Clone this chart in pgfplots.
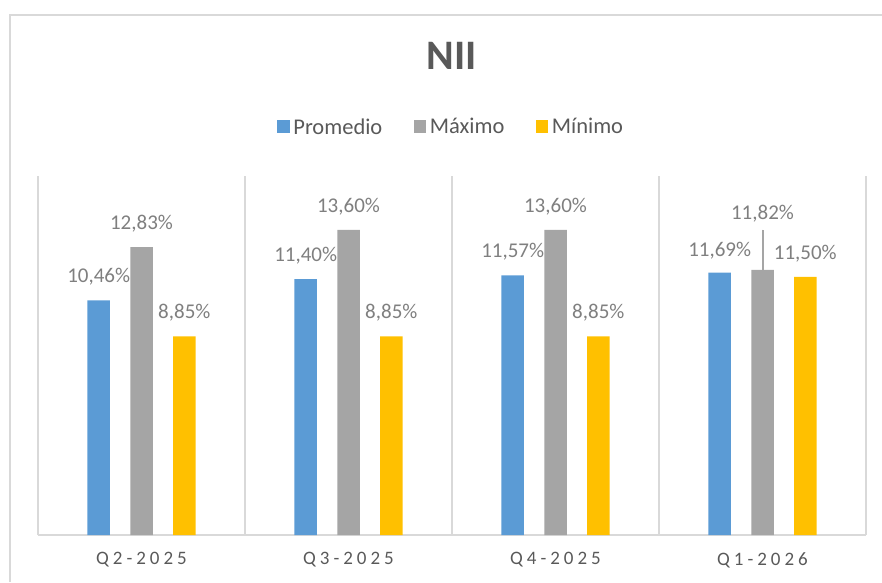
\documentclass[border=0pt]{standalone}
\usepackage{pgfplots}
\usepackage{pgfplotstable}
\pgfplotsset{compat=1.18}
\usepackage{fontspec}
\setmainfont{Carlito}
\newfontfamily\tickfont{Carlito}[LetterSpace=21]
\definecolor{cblue}{HTML}{5B9BD5}
\definecolor{cgray}{HTML}{A5A5A5}
\definecolor{cyel}{HTML}{FFC000}
\definecolor{cgrid}{HTML}{D9D9D9}
\definecolor{ctext}{HTML}{595959}
\definecolor{clab}{HTML}{7F7F7F}

\pgfplotstableread{
x y ls err
0 10.46 17.5 0
1 11.40 17.5 0
2 11.57 17.5 0
3 11.69 16 0
}\prom
\pgfplotstableread{
x y ls err
0 12.83 17.5 0
1 13.60 17.5 0
2 13.60 17.5 0
3 11.82 50 1.79
}\maxi
\pgfplotstableread{
x y ls err
0 8.85 17.5 0
1 8.85 17.5 0
2 8.85 17.5 0
3 11.50 17.5 0
}\mini

\begin{document}
\begin{tikzpicture}
\path[use as bounding box] (-38pt,-47pt) rectangle (844pt,535pt);
\begin{axis}[
  at={(0,0)}, anchor=south west,
  scale only axis, width=828pt, height=359pt,
  ybar=20.3pt, bar width=22.5pt,
  xmin=-0.5, xmax=3.5, ymin=0, ymax=16,
  enlargelimits=false,
  xtick={0,1,2,3},
  xticklabels={Q2-2025,Q3-2025,Q4-2025,Q1-2026},
  xticklabel style={font=\tickfont\fontsize{19}{22}\selectfont, text=ctext, yshift=-14pt},
  minor xtick={-0.5,0.5,1.5,2.5,3.5},
  xminorgrids,
  minor grid style={cgrid, line width=1.3pt},
  major tick length=0pt, minor tick length=0pt,
  ytick=\empty,
  axis x line*=bottom, axis y line*=left,
  x axis line style={cgrid, line width=1.6pt},
  y axis line style={draw=none},
  title={\bfseries NII},
  title style={at={(0.5,1.3175)}, anchor=center, font=\fontsize{42}{48}\selectfont, text=ctext},
  legend columns=3,
  legend style={at={(0.5,1.1365)}, anchor=center, draw=none, fill=none,
    font=\fontsize{22.5}{26}\selectfont, text=ctext,
    nodes={inner xsep=3.5pt},
    /tikz/every even column/.append style={column sep=28pt}},
  legend image code/.code={\fill[#1] (0pt,-6.5pt) rectangle (12.5pt,6.5pt);},
  nodes near coords={\pgfmathprintnumber{\pgfplotspointmeta}\%},
  /pgf/number format/.cd, use comma, fixed, fixed zerofill, precision=2, assume math mode=true,
  /pgfplots/.cd,
  visualization depends on={\thisrow{ls} \as \labshift},
  every node near coord/.append style={anchor=base, yshift=\labshift pt,
    font=\fontsize{21}{25}\selectfont, text=clab, inner sep=0pt},
  point meta=y,
]
\addplot[fill=cblue, draw=none] table[x=x,y=y] {\prom};
\addplot[fill=cgray, draw=none,
  error bars/.cd, y dir=plus, y explicit, error mark=none,
  error bar style={cgray, line width=2pt}]
  table[x=x,y=y,y error=err] {\maxi};
\addplot[fill=cyel, draw=none] table[x=x,y=y] {\mini};
\legend{Promedio, Máximo, Mínimo}
\end{axis}
\draw[cgrid, line width=1.5pt] (-28pt,-47pt) -- (-28pt,520pt) -- (844pt,520pt);
\end{tikzpicture}
\end{document}
